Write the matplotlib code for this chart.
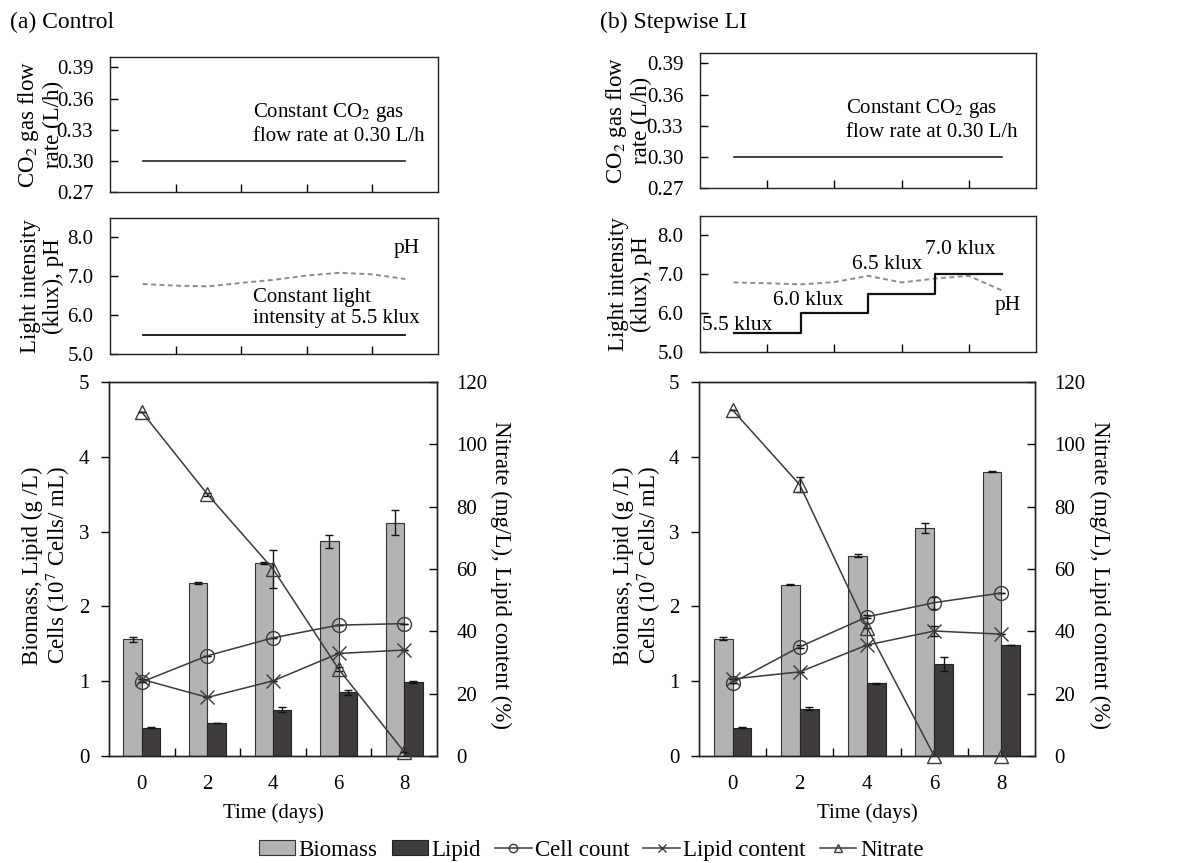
import numpy as np
import matplotlib
matplotlib.use("Agg")
import matplotlib.pyplot as plt
from matplotlib.lines import Line2D
from matplotlib.patches import Patch

plt.rcParams['font.family'] = ['Liberation Serif', 'DejaVu Serif']
plt.rcParams['mathtext.fontset'] = 'stix'
plt.rcParams['font.size'] = 15

# sampling days
days = [0, 2, 4, 6, 8]
ph_days = [0, 1, 2, 3, 4, 5, 6, 7, 8]

# (a) control run
ctrl_biomass = [1.56, 2.31, 2.58, 2.87, 3.12]
ctrl_biomass_err = [0.03, 0.01, 0.01, 0.085, 0.17]
ctrl_lipid = [0.38, 0.44, 0.62, 0.85, 0.99]
ctrl_lipid_err = [0.01, 0.0, 0.03, 0.03, 0.01]
ctrl_cells = [0.99, 1.34, 1.58, 1.75, 1.77]
ctrl_lipid_pct = [24.6, 18.8, 24.1, 32.9, 34.0]
ctrl_nitrate = [110.4, 84.0, 60.0, 27.9, 1.3]
ctrl_nitrate_err = [0.0, 0.5, 6.0, 0.5, 0.0]
ctrl_ph = [6.80, 6.76, 6.74, 6.83, 6.91, 7.02, 7.09, 7.05, 6.93]
ctrl_light = [5.5, 5.5, 5.5, 5.5, 5.5]
ctrl_co2 = [0.30, 0.30, 0.30, 0.30, 0.30]

# (b) stepwise light intensity run
step_biomass = [1.57, 2.29, 2.68, 3.05, 3.80]
step_biomass_err = [0.02, 0.01, 0.02, 0.065, 0.005]
step_lipid = [0.38, 0.63, 0.97, 1.23, 1.48]
step_lipid_err = [0.01, 0.02, 0.01, 0.10, 0.0]
step_cells = [0.98, 1.46, 1.86, 2.05, 2.18]
step_cells_err = [0.0, 0.02, 0.02, 0.08, 0.0]
step_lipid_pct = [24.7, 27.0, 35.6, 40.1, 39.1]
step_lipid_pct_err = [0.0, 0.0, 0.0, 1.5, 0.0]
step_nitrate = [111.0, 87.0, 41.2, 0.0, 0.0]
step_nitrate_err = [0.0, 2.4, 0.0, 0.0, 0.0]
step_ph = [6.79, 6.77, 6.74, 6.80, 6.96, 6.79, 6.89, 6.96, 6.58]
step_light = [5.5, 6.0, 6.5, 7.0, 7.0]
step_co2 = [0.30, 0.30, 0.30, 0.30, 0.30]

LINE = '#3a3a3a'
BIO = '#b3b3b3'
LIP = '#403b3c'
W, H = 1184, 863

fig = plt.figure(figsize=(W / 100, H / 100), dpi=100)


def box(l, t, r, b):
    return fig.add_axes([l / W, 1 - b / H, (r - l) / W, (b - t) / H])


def style_small(ax):
    ax.set_xlim(-1, 9)
    ax.set_xticks([1, 3, 5, 7])
    ax.set_xticklabels([])
    ax.tick_params(axis='x', direction='in', length=6, width=1)
    ax.tick_params(axis='y', direction='in', length=6, width=1, pad=12)
    for s in ax.spines.values():
        s.set_linewidth(1.0)
        s.set_color('#222222')


def draw_panel(geo, title, co2, light, ph, stepwise, biomass, biomass_err,
               lipid, lipid_err, cells, cells_err, lpct, lpct_err, nitrate, nitrate_err):
    l, r, t1, t2, lab_x, lab_xb = geo
    fig.text((l - 100) / W, 1 - 22 / H, title, fontsize=17, va='center')

    # CO2 flow
    a1 = box(l, t1, r, t1 + 135)
    a1.plot([0, 8], [co2[0], co2[-1]], color='#222222', lw=1.2)
    a1.set_ylim(0.27, 0.40)
    a1.set_yticks([0.27, 0.30, 0.33, 0.36, 0.39])
    a1.set_yticklabels(['0.27', '0.30', '0.33', '0.36', '0.39'])
    style_small(a1)
    a1.set_ylabel('CO$_2$ gas flow\nrate (L/h)', fontsize=16.5, linespacing=1.1)
    a1.yaxis.set_label_coords(lab_x, 0.5)
    a1.text(3.35, 0.336, 'Constant CO$_2$ gas\nflow rate at 0.30 L/h',
            fontsize=15, va='center', linespacing=1.15)

    # light intensity and pH
    a2 = box(l, t2, r, t2 + 136)
    a2.plot(ph_days, ph, color='#8a8a8a', lw=1.4, ls=(0, (2.5, 1.8)))
    if stepwise:
        a2.step(days, light, where='post', color='#111111', lw=1.6)
        a2.text(-0.95, 5.69, '5.5 klux', fontsize=15.5, va='center')
        a2.text(2.22, 6.33, '6.0 klux', fontsize=15.5, va='center', ha='center')
        a2.text(4.56, 7.25, '6.5 klux', fontsize=15.5, va='center', ha='center')
        a2.text(6.76, 7.63, '7.0 klux', fontsize=15.5, va='center', ha='center')
        a2.text(8.16, 6.2, 'pH', fontsize=15.5, va='center', ha='center')
    else:
        a2.plot(days, light, color='#111111', lw=1.3)
        a2.text(8.06, 7.72, 'pH', fontsize=15.5, va='center', ha='center')
        a2.text(3.35, 6.18, 'Constant light\nintensity at 5.5 klux',
                fontsize=15, va='center', linespacing=1.15)
    a2.set_ylim(5.0, 8.5)
    a2.set_yticks([5, 6, 7, 8])
    a2.set_yticklabels(['5.0', '6.0', '7.0', '8.0'])
    style_small(a2)
    a2.set_ylabel('Light intensity\n(klux), pH', fontsize=16.5, linespacing=1.1)
    a2.yaxis.set_label_coords(lab_x, 0.5)

    # growth, lipid and nitrate
    a3 = box(l - 1, 382, r - 1, 756)
    d = np.array(days)
    bw = 0.56
    ek = dict(ecolor='#111111', elinewidth=1.0, capsize=3, capthick=1.0)
    a3.bar(d - bw / 2, biomass, bw, yerr=biomass_err, color=BIO,
           edgecolor='#333333', lw=0.8, error_kw=ek, zorder=2)
    a3.bar(d + bw / 2, lipid, bw, yerr=lipid_err, color=LIP,
           edgecolor='#222222', lw=0.8, error_kw=ek, zorder=2)
    mk = dict(color=LINE, lw=1.1, mfc='none', mec=LINE, mew=1.0, ms=10, zorder=4)
    a3.errorbar(d, cells, yerr=cells_err, marker='o', capsize=3,
                ecolor='#111111', elinewidth=1.0, **mk)
    a3.set_xlim(-1, 9)
    a3.set_ylim(0, 5)
    a3.set_yticks([0, 1, 2, 3, 4, 5])
    a3.set_xticks(days)
    a3.set_xticks([1, 3, 5, 7], minor=True)
    a3.tick_params(axis='x', which='major', length=0, pad=14)
    a3.tick_params(axis='x', which='minor', direction='in', length=6, width=1)
    a3.tick_params(axis='y', direction='out', length=6, width=1, pad=8)
    a3.set_xlabel('Time (days)', fontsize=15, labelpad=6)
    a3.set_ylabel('Biomass, Lipid (g /L)\nCells (10$^7$ Cells/ mL)',
                  fontsize=16.5, linespacing=1.05)
    a3.yaxis.set_label_coords(lab_xb, 0.51)

    b3 = a3.twinx()
    b3.errorbar(d, lpct, yerr=lpct_err, marker='x', capsize=3,
                ecolor='#111111', elinewidth=1.0, **mk)
    nl = b3.errorbar(d, nitrate, yerr=nitrate_err, marker='^', capsize=3,
                     ecolor='#111111', elinewidth=1.0, **mk)
    nl[0].set_clip_on(False)
    b3.set_ylim(0, 120)
    b3.set_yticks([0, 20, 40, 60, 80, 100, 120])
    b3.tick_params(axis='y', direction='in', length=6, width=1, pad=14)
    b3.set_ylabel('Nitrate (mg/L), Lipid content (%)', fontsize=16.5,
                  rotation=270, va='bottom')
    b3.yaxis.set_label_coords(1.162, 0.485)
    for ax in (a3, b3):
        for s in ax.spines.values():
            s.set_linewidth(1.0)
            s.set_color('#222222')


draw_panel((110, 438, 57, 218, -0.14, -0.112), '(a) Control',
           ctrl_co2, ctrl_light, ctrl_ph, False,
           ctrl_biomass, ctrl_biomass_err, ctrl_lipid, ctrl_lipid_err,
           ctrl_cells, [0] * 5, ctrl_lipid_pct, [0] * 5, ctrl_nitrate, ctrl_nitrate_err)
draw_panel((700, 1036, 53, 216, -0.144, -0.107), '(b) Stepwise LI',
           step_co2, step_light, step_ph, True,
           step_biomass, step_biomass_err, step_lipid, step_lipid_err,
           step_cells, step_cells_err, step_lipid_pct, step_lipid_pct_err,
           step_nitrate, step_nitrate_err)

lm = dict(color=LINE, lw=1.1, mfc='none', mec=LINE, mew=1.0, ms=6)
handles = [
    Patch(facecolor=BIO, edgecolor='#333333', lw=0.8),
    Patch(facecolor=LIP, edgecolor='#222222', lw=0.8),
    Line2D([], [], marker='o', **lm),
    Line2D([], [], marker='x', **lm),
    Line2D([], [], marker='^', **lm),
]
labels = ['Biomass', 'Lipid', 'Cell count', 'Lipid content', 'Nitrate']
fig.legend(handles, labels, loc='center', bbox_to_anchor=(591 / W, 1 - 850 / H),
           ncol=5, frameon=False, fontsize=16.5, handlelength=1.6, handleheight=0.6,
           handletextpad=0.15, columnspacing=0.6, borderpad=0)

fig.savefig('out.png', dpi=100)
